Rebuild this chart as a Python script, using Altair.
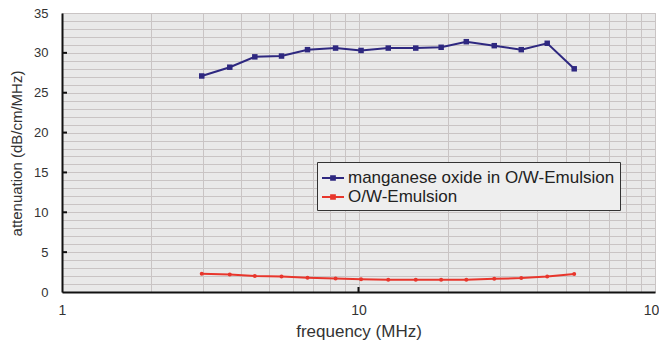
import altair as alt
import pandas as pd

# ---- data ----
freq = [2.96, 3.68, 4.47, 5.50, 6.73, 8.37, 10.2, 12.6, 15.6, 19.0, 23.1, 28.7, 35.4, 43.3, 53.4]
mn_oxide = [27.1, 28.2, 29.5, 29.6, 30.4, 30.6, 30.3, 30.6, 30.6, 30.7, 31.4, 30.9, 30.4, 31.2, 28.0]
ow_emulsion = [2.3, 2.2, 2.0, 1.95, 1.8, 1.7, 1.6, 1.55, 1.55, 1.55, 1.55, 1.65, 1.75, 1.95, 2.25]
series_names = ["manganese oxide in O/W-Emulsion", "O/W-Emulsion"]
series_colors = ["#2e2880", "#e8362c"]

x_grid_values = [1, 2, 3, 4, 5, 6, 7, 8, 9, 10, 20, 30, 40, 50, 60, 70, 80, 90, 100]
y_grid_values = list(range(0, 36))
y_tick_values = [5, 10, 15, 20, 25, 30]
x_tick_values = [10]

rows = []
for f, a in zip(freq, mn_oxide):
    rows.append({"frequency": f, "attenuation": a, "series": series_names[0]})
for f, a in zip(freq, ow_emulsion):
    rows.append({"frequency": f, "attenuation": a, "series": series_names[1]})
df = pd.DataFrame(rows)

FONT = "Liberation Sans"

x_scale = alt.Scale(type="log", domain=[1, 100])
y_scale = alt.Scale(domain=[0, 35], nice=False, zero=True)
color_scale = alt.Scale(domain=series_names, range=series_colors)

legend_path = "M-1,-0.09H1V0.09H-1Z M-0.26,-0.26H0.26V0.26H-0.26Z"

x_axis = alt.Axis(
    title="frequency (MHz)", values=x_grid_values,
    labelExpr="(datum.value == 1 || datum.value == 10 || datum.value == 100) ? datum.label : ''",
    format="~g", tickSize=0, labelPadding=11, labelFontSize=14, labelColor="#333333",
    labelFont=FONT, titleFont=FONT, titleFontSize=17, titleFontWeight="normal",
    titleColor="#333333", titleY=39, titleBaseline="middle",
    domainColor="#111111", domainWidth=2,
    gridColor="#c9c4c4", gridWidth=1, labelFlush=False, labelOverlap=False,
)
y_axis = alt.Axis(
    title="attenuation (dB/cm/MHz)", values=y_grid_values,
    labelExpr="(datum.value % 5 == 0) ? datum.label : ''",
    tickSize=0, labelPadding=14, labelFontSize=13, labelColor="#333333",
    labelFont=FONT, titleFont=FONT, titleFontSize=15, titleFontWeight="normal",
    titleColor="#333333", titleX=-46, titleY=140, titleAngle=-90,
    titleAlign="center", titleBaseline="middle",
    domainColor="#111111", domainWidth=2,
    gridColor="#c9c4c4", gridWidth=1, labelOverlap=False, labelFlush=False,
)

def xe():
    return alt.X("frequency:Q", scale=x_scale, axis=x_axis)

def ye():
    return alt.Y("attenuation:Q", scale=y_scale, axis=y_axis)

color_enc = alt.Color(
    "series:N", scale=color_scale,
    legend=alt.Legend(
        title=None, orient="none", legendX=255, legendY=149,
        fillColor="#eeeeee", strokeColor="#333333", padding=5,
        labelFont=FONT, labelFontSize=17, labelColor="#222222", labelLimit=400,
        symbolType=legend_path, symbolSize=484, symbolStrokeWidth=0,
        rowPadding=0, labelOffset=4,
    ),
)

lines = alt.Chart(df).mark_line(strokeWidth=2).encode(
    x=xe(), y=ye(), color=color_enc,
)

blue_pts = alt.Chart(df).transform_filter(
    alt.datum.series == series_names[0]
).mark_point(shape="square", filled=True, size=30, opacity=1).encode(
    x=xe(), y=ye(),
    color=alt.Color("series:N", scale=color_scale, legend=None),
)
red_pts = alt.Chart(df).transform_filter(
    alt.datum.series == series_names[1]
).mark_point(shape="circle", filled=True, size=16, opacity=1).encode(
    x=xe(), y=ye(),
    color=alt.Color("series:N", scale=color_scale, legend=None),
)

y_ticks = alt.Chart(pd.DataFrame({"attenuation": y_tick_values})).mark_rule(
    color="#111111", strokeWidth=2
).encode(y=ye(), x=alt.value(0), x2=alt.value(5))

x_ticks = alt.Chart(pd.DataFrame({"frequency": x_tick_values})).mark_rule(
    color="#111111", strokeWidth=2
).encode(x=xe(), y=alt.value(279), y2=alt.value(274))

chart = alt.layer(lines, blue_pts, red_pts, y_ticks, x_ticks).properties(
    width=593, height=279,
    autosize=alt.AutoSizeParams(type="none"),
    padding={"left": 54, "top": 5, "right": 4, "bottom": 50},
    background="#ffffff",
).configure_view(
    fill="#e9e9e9", stroke="#bdbdbd", strokeWidth=1,
)

chart.save("out.html", embed_options={"renderer": "svg", "actions": False})
